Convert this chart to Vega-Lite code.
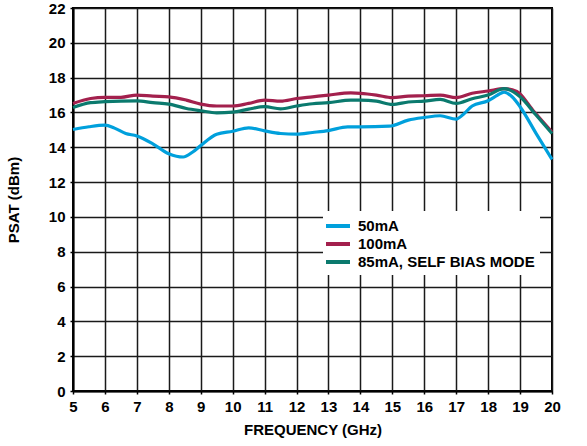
{
  "$schema": "https://vega.github.io/schema/vega-lite/v6.json",
  "width": 479,
  "height": 383,
  "autosize": {"type": "none"},
  "padding": {"left": 73, "top": 8, "right": 35, "bottom": 55},
  "background": "white",
  "config": {
    "view": {"stroke": "black", "strokeWidth": 2},
    "font": "Liberation Sans",
    "axis": {
      "labelFont": "Liberation Sans", "labelFontWeight": "bold", "labelFontSize": 15, "labelColor": "black",
      "titleFont": "Liberation Sans", "titleFontWeight": "bold", "titleFontSize": 15, "titleColor": "black",
      "gridColor": "#1a1a1a", "gridWidth": 1.5, "gridOpacity": 1,
      "domainColor": "black", "domainWidth": 2, "ticks": true, "tickSize": 3, "tickColor": "black", "tickWidth": 1.5
    }
  },
  "data": {"values": [
    {"f":5,"p":15.02,"s":"50mA"},{"f":5.5,"p":15.18,"s":"50mA"},{"f":6,"p":15.27,"s":"50mA"},{"f":6.3,"p":15.1,"s":"50mA"},{"f":6.65,"p":14.79,"s":"50mA"},{"f":7,"p":14.65,"s":"50mA"},{"f":7.5,"p":14.2,"s":"50mA"},{"f":8,"p":13.63,"s":"50mA"},{"f":8.45,"p":13.44,"s":"50mA"},{"f":8.75,"p":13.73,"s":"50mA"},{"f":9,"p":14.1,"s":"50mA"},{"f":9.5,"p":14.75,"s":"50mA"},{"f":10,"p":14.92,"s":"50mA"},{"f":10.5,"p":15.12,"s":"50mA"},{"f":11,"p":14.94,"s":"50mA"},{"f":11.5,"p":14.79,"s":"50mA"},{"f":12,"p":14.75,"s":"50mA"},{"f":12.5,"p":14.85,"s":"50mA"},{"f":13,"p":14.96,"s":"50mA"},{"f":13.6,"p":15.17,"s":"50mA"},{"f":14,"p":15.17,"s":"50mA"},{"f":14.9,"p":15.21,"s":"50mA"},{"f":15.5,"p":15.56,"s":"50mA"},{"f":16,"p":15.71,"s":"50mA"},{"f":16.5,"p":15.81,"s":"50mA"},{"f":17,"p":15.62,"s":"50mA"},{"f":17.2,"p":15.85,"s":"50mA"},{"f":17.5,"p":16.37,"s":"50mA"},{"f":18,"p":16.67,"s":"50mA"},{"f":18.3,"p":17.0,"s":"50mA"},{"f":18.5,"p":17.17,"s":"50mA"},{"f":18.75,"p":16.9,"s":"50mA"},{"f":19,"p":16.33,"s":"50mA"},{"f":19.5,"p":14.8,"s":"50mA"},{"f":20,"p":13.3,"s":"50mA"},
    {"f":5,"p":16.52,"s":"100mA"},{"f":5.55,"p":16.8,"s":"100mA"},{"f":6,"p":16.87,"s":"100mA"},{"f":6.5,"p":16.87,"s":"100mA"},{"f":7,"p":17.0,"s":"100mA"},{"f":7.5,"p":16.94,"s":"100mA"},{"f":8,"p":16.9,"s":"100mA"},{"f":8.55,"p":16.71,"s":"100mA"},{"f":9,"p":16.48,"s":"100mA"},{"f":9.5,"p":16.37,"s":"100mA"},{"f":10,"p":16.37,"s":"100mA"},{"f":10.5,"p":16.52,"s":"100mA"},{"f":11,"p":16.71,"s":"100mA"},{"f":11.5,"p":16.65,"s":"100mA"},{"f":12,"p":16.8,"s":"100mA"},{"f":12.5,"p":16.9,"s":"100mA"},{"f":13,"p":17.0,"s":"100mA"},{"f":13.7,"p":17.12,"s":"100mA"},{"f":14,"p":17.1,"s":"100mA"},{"f":14.5,"p":17.0,"s":"100mA"},{"f":15,"p":16.85,"s":"100mA"},{"f":15.5,"p":16.94,"s":"100mA"},{"f":16,"p":16.96,"s":"100mA"},{"f":16.5,"p":17.0,"s":"100mA"},{"f":17,"p":16.85,"s":"100mA"},{"f":17.5,"p":17.1,"s":"100mA"},{"f":18,"p":17.23,"s":"100mA"},{"f":18.5,"p":17.37,"s":"100mA"},{"f":18.9,"p":17.2,"s":"100mA"},{"f":19.4,"p":16.13,"s":"100mA"},{"f":20,"p":14.88,"s":"100mA"},
    {"f":5,"p":16.29,"s":"85mA, SELF BIAS MODE"},{"f":5.55,"p":16.56,"s":"85mA, SELF BIAS MODE"},{"f":6,"p":16.62,"s":"85mA, SELF BIAS MODE"},{"f":7,"p":16.67,"s":"85mA, SELF BIAS MODE"},{"f":7.5,"p":16.56,"s":"85mA, SELF BIAS MODE"},{"f":8,"p":16.48,"s":"85mA, SELF BIAS MODE"},{"f":8.55,"p":16.23,"s":"85mA, SELF BIAS MODE"},{"f":9,"p":16.1,"s":"85mA, SELF BIAS MODE"},{"f":9.5,"p":15.98,"s":"85mA, SELF BIAS MODE"},{"f":10,"p":16.02,"s":"85mA, SELF BIAS MODE"},{"f":10.5,"p":16.19,"s":"85mA, SELF BIAS MODE"},{"f":11,"p":16.33,"s":"85mA, SELF BIAS MODE"},{"f":11.5,"p":16.21,"s":"85mA, SELF BIAS MODE"},{"f":12,"p":16.37,"s":"85mA, SELF BIAS MODE"},{"f":12.5,"p":16.5,"s":"85mA, SELF BIAS MODE"},{"f":13,"p":16.56,"s":"85mA, SELF BIAS MODE"},{"f":13.7,"p":16.71,"s":"85mA, SELF BIAS MODE"},{"f":14,"p":16.71,"s":"85mA, SELF BIAS MODE"},{"f":14.5,"p":16.65,"s":"85mA, SELF BIAS MODE"},{"f":15,"p":16.46,"s":"85mA, SELF BIAS MODE"},{"f":15.5,"p":16.6,"s":"85mA, SELF BIAS MODE"},{"f":16,"p":16.65,"s":"85mA, SELF BIAS MODE"},{"f":16.5,"p":16.75,"s":"85mA, SELF BIAS MODE"},{"f":17,"p":16.52,"s":"85mA, SELF BIAS MODE"},{"f":17.5,"p":16.79,"s":"85mA, SELF BIAS MODE"},{"f":18,"p":17.0,"s":"85mA, SELF BIAS MODE"},{"f":18.5,"p":17.37,"s":"85mA, SELF BIAS MODE"},{"f":19,"p":16.9,"s":"85mA, SELF BIAS MODE"},{"f":19.5,"p":15.85,"s":"85mA, SELF BIAS MODE"},{"f":20,"p":14.79,"s":"85mA, SELF BIAS MODE"}
  ]},
  "mark": {"type": "line", "interpolate": "monotone", "strokeWidth": 3.2},
  "encoding": {
    "x": {"field": "f", "type": "quantitative", "scale": {"domain": [5, 20], "nice": false, "zero": false},
      "axis": {"values": [5,6,7,8,9,10,11,12,13,14,15,16,17,18,19,20], "title": "FREQUENCY (GHz)", "labelPadding": 5, "titlePadding": 8, "labelFlush": false}},
    "y": {"field": "p", "type": "quantitative", "scale": {"domain": [0, 22], "nice": false},
      "axis": {"values": [0,2,4,6,8,10,12,14,16,18,20,22], "title": "PSAT (dBm)", "labelPadding": 5, "titlePadding": 27, "labelFlush": false}},
    "color": {"field": "s", "type": "nominal",
      "scale": {"domain": ["50mA", "100mA", "85mA, SELF BIAS MODE"], "range": ["#00A0DC", "#A3204D", "#0B7A6E"]},
      "legend": {"title": null, "orient": "none", "legendX": 250, "legendY": 203, "fillColor": "white", "padding": 5,
        "symbolType": "M-1.5,0H1.5", "symbolSize": 256, "symbolStrokeWidth": 4, "labelFont": "Liberation Sans", "labelFontWeight": "bold", "labelFontSize": 15, "labelColor": "black", "labelLimit": 400, "rowPadding": -1, "labelOffset": 10}},
    "order": {"field": "f", "type": "quantitative"}
  }
}
